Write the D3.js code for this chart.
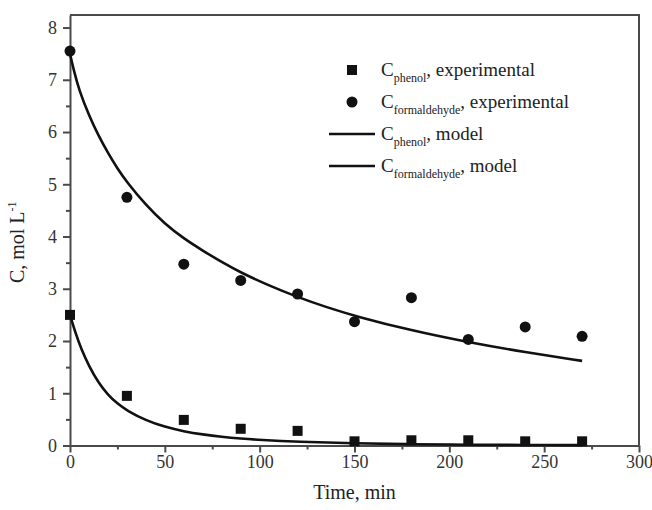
<!DOCTYPE html>
<html>
<head>
<meta charset="utf-8">
<script src="https://cdn.jsdelivr.net/npm/d3@7"></script>
<style>
  body { margin: 0; background: #fff; }
  text { font-family: "Liberation Serif", "DejaVu Serif", serif; }
</style>
</head>
<body>
<div id="chart"></div>
<script>
// experimental points
const timeExp = [0, 30, 60, 90, 120, 150, 180, 210, 240, 270];
const phenolExp = [2.50, 0.95, 0.49, 0.32, 0.28, 0.08, 0.10, 0.10, 0.08, 0.08];
const formExp = [7.55, 4.75, 3.47, 3.16, 2.90, 2.37, 2.83, 2.03, 2.27, 2.09];

// model curves
const phenolModelT = [0, 3, 6, 10, 15, 20, 25, 30, 40, 50, 60, 70, 80, 90, 100, 120, 150, 180, 210, 240, 270];
const phenolModelC = [2.5, 2.14, 1.84, 1.52, 1.20, 0.97, 0.80, 0.67, 0.48, 0.355, 0.27, 0.21, 0.165, 0.132, 0.106, 0.07, 0.04, 0.024, 0.015, 0.01, 0.007];
const formModelT = [0, 2, 5, 10, 15, 20, 25, 30, 40, 50, 60, 70, 80, 90, 105, 120, 135, 150, 180, 210, 240, 270];
const formModelC = [7.5, 7.18, 6.78, 6.32, 5.93, 5.60, 5.30, 5.04, 4.60, 4.24, 3.96, 3.73, 3.51, 3.31, 3.06, 2.84, 2.65, 2.48, 2.20, 1.975, 1.785, 1.62];

const xTicks = [0, 50, 100, 150, 200, 250, 300];
const xMinor = [25, 75, 125, 175, 225, 275];
const yTicks = [0, 1, 2, 3, 4, 5, 6, 7, 8];
const yMinor = [0.5, 1.5, 2.5, 3.5, 4.5, 5.5, 6.5, 7.5];

const width = 652;
const height = 510;
const marginTop = 15;
const marginRight = 13;
const marginBottom = 64.5;
const marginLeft = 70;

const axisColor = "#4a4a4a";

const x = d3.scaleLinear()
  .domain([0, 300])
  .range([marginLeft, width - marginRight]);

const y = d3.scaleLinear()
  .domain([0, 8.24])
  .range([height - marginBottom, marginTop]);

const svg = d3.select("#chart")
  .append("svg")
  .attr("width", width)
  .attr("height", height)
  .attr("viewBox", [0, 0, width, height]);

// frame (top and right)
svg.append("path")
  .attr("fill", "none")
  .attr("stroke", axisColor)
  .attr("stroke-width", 2)
  .attr("d", `M${x(0)},${y(8.24)}H${x(300)}V${y(0)}`);

// x axis
const gx = svg.append("g")
  .attr("transform", `translate(0,${y(0)})`);
gx.call(d3.axisBottom(x).tickValues(xTicks).tickSize(7).tickSizeOuter(0).tickPadding(3));
gx.append("g")
  .call(d3.axisBottom(x).tickValues(xMinor).tickSize(4).tickFormat(""))
  .call(g => g.select(".domain").remove());

// y axis
const gy = svg.append("g")
  .attr("transform", `translate(${x(0)},0)`);
gy.call(d3.axisLeft(y).tickValues(yTicks).tickSize(7).tickSizeOuter(0).tickPadding(6));
gy.append("g")
  .call(d3.axisLeft(y).tickValues(yMinor).tickSize(4).tickFormat(""))
  .call(g => g.select(".domain").remove());

svg.selectAll(".domain, .tick line")
  .attr("stroke", axisColor)
  .attr("stroke-width", 2);
svg.selectAll(".tick text")
  .attr("font-family", "Liberation Serif")
  .attr("font-size", 18)
  .attr("fill", "#333");

// model curves
const line = d3.line()
  .x(d => x(d[0]))
  .y(d => y(d[1]))
  .curve(d3.curveBasis);

svg.append("path")
  .attr("fill", "none")
  .attr("stroke", "#111")
  .attr("stroke-width", 2.6)
  .attr("d", line(d3.zip(formModelT, formModelC)));

svg.append("path")
  .attr("fill", "none")
  .attr("stroke", "#111")
  .attr("stroke-width", 2.6)
  .attr("d", line(d3.zip(phenolModelT, phenolModelC)));

// experimental points
svg.append("g")
  .selectAll("rect")
  .data(d3.zip(timeExp, phenolExp))
  .join("rect")
  .attr("x", d => x(d[0]) - 5)
  .attr("y", d => y(d[1]) - 5)
  .attr("width", 10)
  .attr("height", 10)
  .attr("fill", "#111");

svg.append("g")
  .selectAll("circle")
  .data(d3.zip(timeExp, formExp))
  .join("circle")
  .attr("cx", d => x(d[0]))
  .attr("cy", d => y(d[1]))
  .attr("r", 5.5)
  .attr("fill", "#111");

// legend
const legendItems = [
  { sub: "phenol", rest: ", experimental", type: "square" },
  { sub: "formaldehyde", rest: ", experimental", type: "circle" },
  { sub: "phenol", rest: ", model", type: "line" },
  { sub: "formaldehyde", rest: ", model", type: "line" },
];

const legend = svg.append("g")
  .attr("transform", "translate(352,70)");

legendItems.forEach((d, i) => {
  const row = legend.append("g").attr("transform", `translate(0,${i * 32})`);
  if (d.type === "square") {
    row.append("rect").attr("x", -5).attr("y", -5).attr("width", 10).attr("height", 10).attr("fill", "#111");
  } else if (d.type === "circle") {
    row.append("circle").attr("r", 5.5).attr("fill", "#111");
  } else {
    row.append("line").attr("x1", -23).attr("x2", 23).attr("stroke", "#111").attr("stroke-width", 2.6);
  }
  const t = row.append("text")
    .attr("x", 29)
    .attr("y", 6)
    .attr("font-size", 19)
    .attr("fill", "#222");
  t.append("tspan").text("C");
  t.append("tspan").attr("font-size", 12).attr("dy", 6).text(d.sub);
  t.append("tspan").attr("dy", -6).text(d.rest);
});

// axis titles
svg.append("text")
  .attr("x", (x(0) + x(300)) / 2)
  .attr("y", 499)
  .attr("text-anchor", "middle")
  .attr("font-size", 20)
  .attr("fill", "#222")
  .text("Time, min");

const yt = svg.append("text")
  .attr("transform", `translate(24,${(y(0) + y(8.24)) / 2 + 12}) rotate(-90)`)
  .attr("text-anchor", "middle")
  .attr("font-size", 20)
  .attr("fill", "#222");
yt.append("tspan").text("C, mol L");
yt.append("tspan").attr("font-size", 12).attr("dy", -8).text("-1");
</script>
</body>
</html>
